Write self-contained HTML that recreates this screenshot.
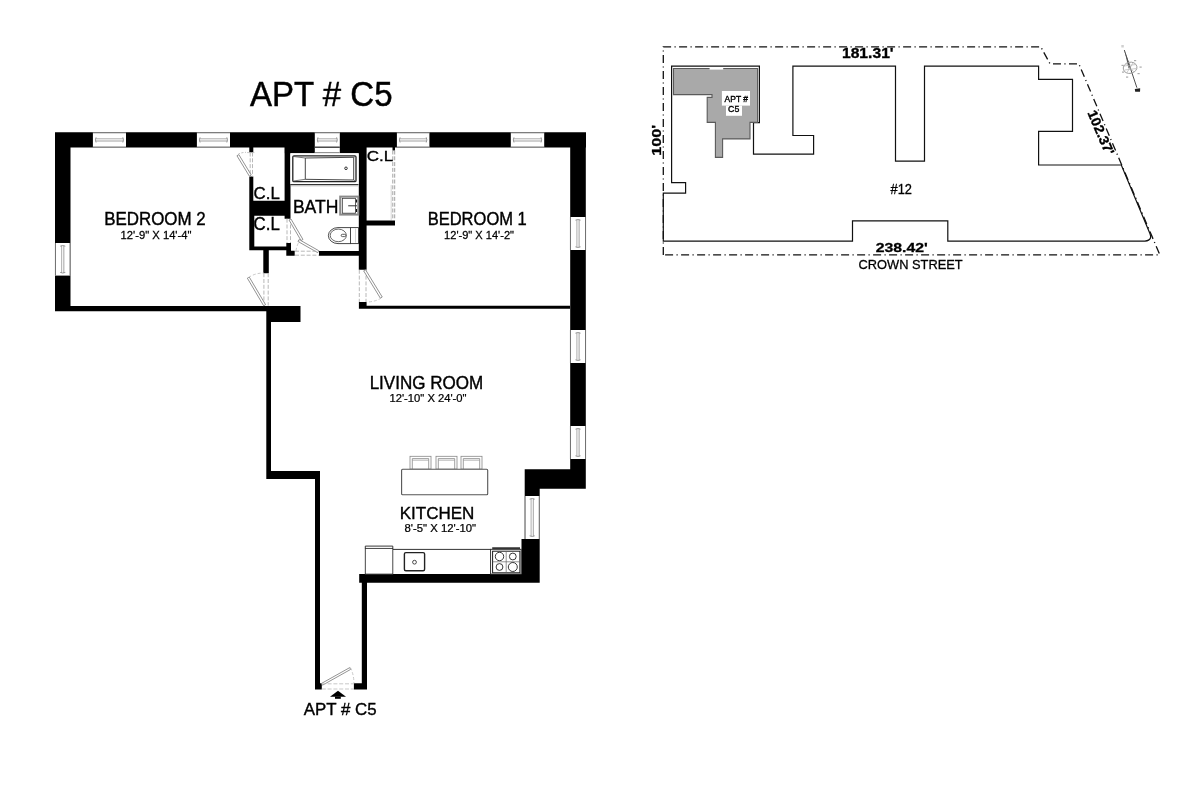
<!DOCTYPE html><html><head><meta charset="utf-8"><style>html,body{margin:0;padding:0;background:#fff;width:1200px;height:800px;overflow:hidden}svg{display:block;will-change:transform;font-family:"Liberation Sans",sans-serif}</style></head><body>
<svg width="1200" height="800" viewBox="0 0 1200 800">
<rect width="1200" height="800" fill="#fff"/>
<path d="M55,132.3H586V147.5H55ZM55,132.3H70.5V311.2H55ZM55,306H266.3V311.2H55ZM266.3,306H300.5V322H266.3ZM266.3,306H271V479H266.3ZM266.3,471H319.8V479H266.3ZM315,471H320V689.4H315ZM361.8,574.3H367V689.4H361.8ZM359.2,574.1H539.7V582.8H359.2ZM521.5,539H539.7V582.8H521.5ZM524.7,469.2H539.7V539H524.7ZM524.7,469.2H585.8V488.7H524.7ZM570.2,132.3H585.8V488.7H570.2ZM366.5,305.8H570V308.8H366.5ZM358.9,302H366.6V308.8H358.9ZM358.8,147.5H366.6V269.8H358.8ZM366.5,220.6H395V225.6H366.5ZM392.5,147.5H395V150.5H392.5ZM284.5,147.5H358.8V153.2H284.5ZM284.6,147.5H290.5V218.7H284.6ZM249.3,147.5H253.3V152.5H249.3ZM249.3,176.6H253.3V250.3H249.3ZM249.3,200.7H290.5V215.7H249.3ZM249.3,215.7H254.3V250.3H249.3ZM249.3,246.4H291V250.3H249.3ZM286.3,243H291V255.7H286.3ZM286.3,250.7H294.7V255.7H286.3ZM263.3,250.3H268.8V273.2H263.3ZM319,251H358.8V255.7H319ZM315.3,683.3H321.8V689.4H315.3ZM353.9,683.3H367V689.4H353.9Z" fill="#000"/>
<rect x="92.9" y="132.3" width="33.10" height="15.20" fill="#fff" />
<line x1="92.9" y1="132.75" x2="126" y2="132.75" stroke="#5a5a5a" stroke-width="0.9" />
<line x1="92.9" y1="147.05" x2="126" y2="147.05" stroke="#5a5a5a" stroke-width="0.9" />
<line x1="95.5" y1="138.8" x2="123.4" y2="138.8" stroke="#8a8a8a" stroke-width="0.7" />
<line x1="95.5" y1="141.0" x2="123.4" y2="141.0" stroke="#7a7a7a" stroke-width="0.7" />
<path d="M96.10000000000001,137.3 Q94.7,139.9 96.10000000000001,142.5" fill="none" stroke="#777" stroke-width="0.7"/>
<path d="M122.8,137.3 Q124.2,139.9 122.8,142.5" fill="none" stroke="#777" stroke-width="0.7"/>
<rect x="196.9" y="132.3" width="33.10" height="15.20" fill="#fff" />
<line x1="196.9" y1="132.75" x2="230" y2="132.75" stroke="#5a5a5a" stroke-width="0.9" />
<line x1="196.9" y1="147.05" x2="230" y2="147.05" stroke="#5a5a5a" stroke-width="0.9" />
<line x1="199.5" y1="138.8" x2="227.4" y2="138.8" stroke="#8a8a8a" stroke-width="0.7" />
<line x1="199.5" y1="141.0" x2="227.4" y2="141.0" stroke="#7a7a7a" stroke-width="0.7" />
<path d="M200.1,137.3 Q198.70000000000002,139.9 200.1,142.5" fill="none" stroke="#777" stroke-width="0.7"/>
<path d="M226.8,137.3 Q228.2,139.9 226.8,142.5" fill="none" stroke="#777" stroke-width="0.7"/>
<rect x="314.8" y="132.3" width="25.00" height="15.20" fill="#fff" />
<line x1="314.8" y1="132.75" x2="339.8" y2="132.75" stroke="#5a5a5a" stroke-width="0.9" />
<line x1="314.8" y1="147.05" x2="339.8" y2="147.05" stroke="#5a5a5a" stroke-width="0.9" />
<line x1="317.40000000000003" y1="138.8" x2="337.2" y2="138.8" stroke="#8a8a8a" stroke-width="0.7" />
<line x1="317.40000000000003" y1="141.0" x2="337.2" y2="141.0" stroke="#7a7a7a" stroke-width="0.7" />
<path d="M318.0,137.3 Q316.6,139.9 318.0,142.5" fill="none" stroke="#777" stroke-width="0.7"/>
<path d="M336.6,137.3 Q338.0,139.9 336.6,142.5" fill="none" stroke="#777" stroke-width="0.7"/>
<rect x="396.9" y="132.3" width="32.50" height="15.20" fill="#fff" />
<line x1="396.9" y1="132.75" x2="429.4" y2="132.75" stroke="#5a5a5a" stroke-width="0.9" />
<line x1="396.9" y1="147.05" x2="429.4" y2="147.05" stroke="#5a5a5a" stroke-width="0.9" />
<line x1="399.5" y1="138.8" x2="426.79999999999995" y2="138.8" stroke="#8a8a8a" stroke-width="0.7" />
<line x1="399.5" y1="141.0" x2="426.79999999999995" y2="141.0" stroke="#7a7a7a" stroke-width="0.7" />
<path d="M400.09999999999997,137.3 Q398.7,139.9 400.09999999999997,142.5" fill="none" stroke="#777" stroke-width="0.7"/>
<path d="M426.2,137.3 Q427.59999999999997,139.9 426.2,142.5" fill="none" stroke="#777" stroke-width="0.7"/>
<rect x="510.8" y="132.3" width="33.40" height="15.20" fill="#fff" />
<line x1="510.8" y1="132.75" x2="544.2" y2="132.75" stroke="#5a5a5a" stroke-width="0.9" />
<line x1="510.8" y1="147.05" x2="544.2" y2="147.05" stroke="#5a5a5a" stroke-width="0.9" />
<line x1="513.4" y1="138.8" x2="541.6" y2="138.8" stroke="#8a8a8a" stroke-width="0.7" />
<line x1="513.4" y1="141.0" x2="541.6" y2="141.0" stroke="#7a7a7a" stroke-width="0.7" />
<path d="M514.0,137.3 Q512.6,139.9 514.0,142.5" fill="none" stroke="#777" stroke-width="0.7"/>
<path d="M541.0,137.3 Q542.4000000000001,139.9 541.0,142.5" fill="none" stroke="#777" stroke-width="0.7"/>
<rect x="314.8" y="147.5" width="25.00" height="5.70" fill="#fff" />
<line x1="314.8" y1="147.3" x2="339.8" y2="147.3" stroke="#333" stroke-width="1.0" />
<line x1="314.8" y1="152.6" x2="339.8" y2="152.6" stroke="#888" stroke-width="1.0" />
<rect x="55" y="243" width="15.50" height="32.60" fill="#fff" />
<line x1="55.45" y1="243" x2="55.45" y2="275.6" stroke="#5a5a5a" stroke-width="0.9" />
<line x1="70.05" y1="243" x2="70.05" y2="275.6" stroke="#5a5a5a" stroke-width="0.9" />
<line x1="61.65" y1="245.6" x2="61.65" y2="273.0" stroke="#8a8a8a" stroke-width="0.7" />
<line x1="63.85" y1="245.6" x2="63.85" y2="273.0" stroke="#7a7a7a" stroke-width="0.7" />
<path d="M60.15,246.2 Q62.75,244.8 65.35,246.2" fill="none" stroke="#777" stroke-width="0.7"/>
<path d="M60.15,272.40000000000003 Q62.75,273.8 65.35,272.40000000000003" fill="none" stroke="#777" stroke-width="0.7"/>
<rect x="570" y="217" width="16.00" height="33.00" fill="#fff" />
<line x1="570.45" y1="217" x2="570.45" y2="250" stroke="#5a5a5a" stroke-width="0.9" />
<line x1="585.55" y1="217" x2="585.55" y2="250" stroke="#5a5a5a" stroke-width="0.9" />
<line x1="576.9" y1="219.6" x2="576.9" y2="247.4" stroke="#8a8a8a" stroke-width="0.7" />
<line x1="579.1" y1="219.6" x2="579.1" y2="247.4" stroke="#7a7a7a" stroke-width="0.7" />
<path d="M575.4,220.2 Q578.0,218.8 580.6,220.2" fill="none" stroke="#777" stroke-width="0.7"/>
<path d="M575.4,246.8 Q578.0,248.2 580.6,246.8" fill="none" stroke="#777" stroke-width="0.7"/>
<rect x="570" y="330" width="16.00" height="33.00" fill="#fff" />
<line x1="570.45" y1="330" x2="570.45" y2="363" stroke="#5a5a5a" stroke-width="0.9" />
<line x1="585.55" y1="330" x2="585.55" y2="363" stroke="#5a5a5a" stroke-width="0.9" />
<line x1="576.9" y1="332.6" x2="576.9" y2="360.4" stroke="#8a8a8a" stroke-width="0.7" />
<line x1="579.1" y1="332.6" x2="579.1" y2="360.4" stroke="#7a7a7a" stroke-width="0.7" />
<path d="M575.4,333.2 Q578.0,331.8 580.6,333.2" fill="none" stroke="#777" stroke-width="0.7"/>
<path d="M575.4,359.8 Q578.0,361.2 580.6,359.8" fill="none" stroke="#777" stroke-width="0.7"/>
<rect x="570" y="426" width="16.00" height="33.00" fill="#fff" />
<line x1="570.45" y1="426" x2="570.45" y2="459" stroke="#5a5a5a" stroke-width="0.9" />
<line x1="585.55" y1="426" x2="585.55" y2="459" stroke="#5a5a5a" stroke-width="0.9" />
<line x1="576.9" y1="428.6" x2="576.9" y2="456.4" stroke="#8a8a8a" stroke-width="0.7" />
<line x1="579.1" y1="428.6" x2="579.1" y2="456.4" stroke="#7a7a7a" stroke-width="0.7" />
<path d="M575.4,429.2 Q578.0,427.8 580.6,429.2" fill="none" stroke="#777" stroke-width="0.7"/>
<path d="M575.4,455.8 Q578.0,457.2 580.6,455.8" fill="none" stroke="#777" stroke-width="0.7"/>
<rect x="524.7" y="496" width="15.00" height="43.00" fill="#fff" />
<line x1="525.1500000000001" y1="496" x2="525.1500000000001" y2="539" stroke="#5a5a5a" stroke-width="0.9" />
<line x1="539.25" y1="496" x2="539.25" y2="539" stroke="#5a5a5a" stroke-width="0.9" />
<line x1="531.1" y1="498.6" x2="531.1" y2="536.4" stroke="#8a8a8a" stroke-width="0.7" />
<line x1="533.3000000000001" y1="498.6" x2="533.3000000000001" y2="536.4" stroke="#7a7a7a" stroke-width="0.7" />
<path d="M529.6,499.2 Q532.2,497.8 534.8000000000001,499.2" fill="none" stroke="#777" stroke-width="0.7"/>
<path d="M529.6,535.8 Q532.2,537.2 534.8000000000001,535.8" fill="none" stroke="#777" stroke-width="0.7"/>
<line x1="250.2" y1="152.5" x2="250.2" y2="176.6" stroke="#b0b0b0" stroke-width="0.9" stroke-dasharray="4,1.8"/>
<line x1="252.5" y1="152.5" x2="252.5" y2="176.6" stroke="#b0b0b0" stroke-width="0.9" stroke-dasharray="4,1.8"/>
<polygon points="251.23997413561847,175.0286431724672 238.83997413561846,154.6286431724672 236.96002586438155,155.77135682753277 249.36002586438156,176.17135682753278" fill="#fff" stroke="#777" stroke-width="0.8" />
<path d="M238.3,154.2 Q241.5,152.3 246,152.4" fill="none" stroke="#aaa" stroke-width="0.8" stroke-dasharray="2,1.5"/>
<line x1="247" y1="152.6" x2="254.5" y2="152.6" stroke="#bbb" stroke-width="0.8" />
<line x1="263.9" y1="273.2" x2="263.9" y2="305.6" stroke="#b0b0b0" stroke-width="0.9" stroke-dasharray="4,1.8"/>
<line x1="268.2" y1="273.2" x2="268.2" y2="305.6" stroke="#b0b0b0" stroke-width="0.9" stroke-dasharray="4,1.8"/>
<polygon points="265.54715579112235,304.64062900741686 249.24715579112234,277.0406290074169 247.35284420887768,278.15937099258315 263.6528442088777,305.7593709925831" fill="#fff" stroke="#777" stroke-width="0.8" />
<path d="M248.5,277.5 Q255,273 264,273" fill="none" stroke="#bbb" stroke-width="0.8" stroke-dasharray="3,2"/>
<line x1="287" y1="218.7" x2="287" y2="243" stroke="#b0b0b0" stroke-width="0.9" stroke-dasharray="4,1.8"/>
<line x1="290.5" y1="218.7" x2="290.5" y2="243" stroke="#b0b0b0" stroke-width="0.9" stroke-dasharray="4,1.8"/>
<polygon points="289.05068408371835,220.05569712172584 301.05068408371835,240.55569712172584 302.94931591628165,239.44430287827416 290.94931591628165,218.94430287827416" fill="#fff" stroke="#777" stroke-width="0.8" />
<polygon points="297.95841837240437,241.45743894878518 317.7584183724044,252.65743894878517 318.84158162759564,250.7425610512148 299.04158162759563,239.54256105121482" fill="#fff" stroke="#777" stroke-width="0.8" />
<line x1="295" y1="251.2" x2="319" y2="251.2" stroke="#b0b0b0" stroke-width="0.9" stroke-dasharray="4,1.8"/>
<line x1="295" y1="255.2" x2="319" y2="255.2" stroke="#b0b0b0" stroke-width="0.9" stroke-dasharray="4,1.8"/>
<path d="M296,251 Q297,243 301,240" fill="none" stroke="#bbb" stroke-width="0.8" stroke-dasharray="3,2"/>
<line x1="359.3" y1="269.8" x2="359.3" y2="302" stroke="#b0b0b0" stroke-width="0.9" stroke-dasharray="4,1.8"/>
<line x1="366" y1="269.8" x2="366" y2="302" stroke="#b0b0b0" stroke-width="0.9" stroke-dasharray="4,1.8"/>
<polygon points="363.6616449689862,270.87401205193885 380.3616449689862,298.17401205193886 382.23835503101384,297.0259879480612 365.53835503101385,269.7259879480612" fill="#fff" stroke="#777" stroke-width="0.8" />
<path d="M381.2,298 Q375,302 366.5,302" fill="none" stroke="#bbb" stroke-width="0.8" stroke-dasharray="3,2"/>
<line x1="392.8" y1="150.5" x2="392.8" y2="220.6" stroke="#999" stroke-width="0.9" stroke-dasharray="4,1.8"/>
<line x1="394.7" y1="150.5" x2="394.7" y2="220.6" stroke="#999" stroke-width="0.9" stroke-dasharray="4,1.8"/>
<line x1="391.2" y1="185" x2="391.2" y2="220" stroke="#ccc" stroke-width="0.8" />
<polygon points="322.48879176306747,685.1724004885127 350.68879176306746,669.3724004885128 349.7112082369325,667.6275995114872 321.51120823693253,683.4275995114872" fill="#fff" stroke="#777" stroke-width="0.8" />
<path d="M350.4,667.5 Q354,675 353.9,683.3" fill="none" stroke="#bbb" stroke-width="0.8" stroke-dasharray="3,2"/>
<line x1="321.8" y1="683.8" x2="353.9" y2="683.8" stroke="#bbb" stroke-width="0.8" stroke-dasharray="4,1.8"/>
<line x1="321.8" y1="689" x2="353.9" y2="689" stroke="#bbb" stroke-width="0.8" stroke-dasharray="4,1.8"/>
<polygon points="338,690.8 330,696.8 346,696.8" fill="#000" stroke="none" stroke-width="1" />
<rect x="335" y="696.5" width="5.80" height="2.30" fill="#000" />
<rect x="290.3" y="153.3" width="68.20" height="31.00" fill="#fff" />
<line x1="290.3" y1="184.6" x2="358.5" y2="184.6" stroke="#222" stroke-width="1.0" />
<rect x="292.8" y="155.8" width="63.2" height="25.9" rx="1.2" fill="#fff" stroke="#222" stroke-width="1.3"/>
<polyline points="305.3,158 353.7,157.3 353.7,180 305.3,179.3 305.3,158" fill="none" stroke="#333" stroke-width="0.9" />
<polyline points="293.5,156.5 305.3,158" fill="none" stroke="#555" stroke-width="0.8" />
<polyline points="293.5,181 305.3,179.3" fill="none" stroke="#555" stroke-width="0.8" />
<polyline points="355.3,156.5 353.7,157.3" fill="none" stroke="#555" stroke-width="0.8" />
<polyline points="355.3,181 353.7,180" fill="none" stroke="#555" stroke-width="0.8" />
<circle cx="346" cy="168.3" r="1.3" fill="none" stroke="#222" stroke-width="0.9"/>
<line x1="290.8" y1="185.8" x2="358" y2="185.8" stroke="#aaa" stroke-width="0.8" />
<rect x="340.2" y="196.6" width="18.10" height="18.00" fill="#fff" stroke="#8a8a8a" stroke-width="2"/>
<rect x="342.3" y="198.3" width="13.20" height="14.90" fill="none" stroke="#333" stroke-width="0.8"/>
<line x1="348.2" y1="205.8" x2="357" y2="205.8" stroke="#333" stroke-width="1.0" />
<line x1="356.5" y1="199.5" x2="356.5" y2="202.5" stroke="#111" stroke-width="1.1" />
<line x1="356.5" y1="209" x2="356.5" y2="212" stroke="#111" stroke-width="1.1" />
<path d="M350.5,227.6 L338,227.6 A9.6,8 0 0,0 338,243.6 L350.5,243.6" fill="#fff" stroke="#333" stroke-width="0.9"/>
<ellipse cx="338.3" cy="235.4" rx="8.1" ry="6.3" fill="none" stroke="#444" stroke-width="0.8"/>
<rect x="341.2" y="234.3" width="4.6" height="2.3" rx="1.15" fill="#fff" stroke="#333" stroke-width="0.8"/>
<rect x="350.5" y="227.6" width="8.00" height="16.00" fill="#fff" stroke="#333" stroke-width="0.9"/>
<line x1="355.5" y1="228.5" x2="355.5" y2="242.6" stroke="#bbb" stroke-width="0.6" />
<rect x="410" y="456.3" width="21.00" height="12.80" fill="#fff" stroke="#888" stroke-width="0.8"/>
<polyline points="412.3,469.1 412.3,458.6 428.7,458.6 428.7,469.1" fill="none" stroke="#888" stroke-width="0.8" />
<line x1="412.3" y1="460.2" x2="428.7" y2="460.2" stroke="#999" stroke-width="0.7" />
<rect x="436" y="456.3" width="21.00" height="12.80" fill="#fff" stroke="#888" stroke-width="0.8"/>
<polyline points="438.3,469.1 438.3,458.6 454.7,458.6 454.7,469.1" fill="none" stroke="#888" stroke-width="0.8" />
<line x1="438.3" y1="460.2" x2="454.7" y2="460.2" stroke="#999" stroke-width="0.7" />
<rect x="461" y="456.3" width="21.00" height="12.80" fill="#fff" stroke="#888" stroke-width="0.8"/>
<polyline points="463.3,469.1 463.3,458.6 479.7,458.6 479.7,469.1" fill="none" stroke="#888" stroke-width="0.8" />
<line x1="463.3" y1="460.2" x2="479.7" y2="460.2" stroke="#999" stroke-width="0.7" />
<rect x="401.6" y="469.2" width="86.1" height="25.5" rx="1" fill="#fff" stroke="#555" stroke-width="1.1"/>
<line x1="392.8" y1="549.4" x2="490.7" y2="549.4" stroke="#333" stroke-width="1" />
<rect x="365.3" y="548.4" width="27.50" height="25.70" fill="#fff" stroke="#333" stroke-width="0.9"/>
<line x1="365.3" y1="546.1" x2="392.8" y2="546.1" stroke="#222" stroke-width="0.9" />
<line x1="365.3" y1="546.1" x2="365.3" y2="548.4" stroke="#222" stroke-width="0.9" />
<line x1="392.8" y1="546.1" x2="392.8" y2="548.4" stroke="#222" stroke-width="0.9" />
<rect x="404.4" y="552.6" width="20.2" height="18.2" rx="1.5" fill="#fff" stroke="#222" stroke-width="1.4"/>
<circle cx="414.5" cy="562.2" r="1.9" fill="none" stroke="#333" stroke-width="0.9"/>
<rect x="490.6" y="549.3" width="30.60" height="24.80" fill="#fff" stroke="#222" stroke-width="0.9"/>
<rect x="492.6" y="551.2" width="27.30" height="21.60" fill="none" stroke="#1a1a1a" stroke-width="1.0"/>
<line x1="506.2" y1="551" x2="506.2" y2="572.8" stroke="#666" stroke-width="0.7" />
<line x1="492.8" y1="561.8" x2="519.7" y2="561.8" stroke="#666" stroke-width="0.7" />
<line x1="492.2" y1="548.2" x2="520" y2="548.2" stroke="#333" stroke-width="1.9" />
<circle cx="499.5" cy="556.5" r="4.2" fill="none" stroke="#222" stroke-width="0.9"/>
<circle cx="512.8" cy="556.5" r="3.4" fill="none" stroke="#222" stroke-width="0.9"/>
<circle cx="499.5" cy="567" r="3.4" fill="none" stroke="#222" stroke-width="0.9"/>
<circle cx="512.8" cy="567" r="4.5" fill="none" stroke="#222" stroke-width="0.9"/>
<g transform="translate(250.00,106.00) scale(1,1.061)"><text x="0" y="0" font-size="33.02" font-weight="400" fill="#000" stroke="#000" stroke-width="0.45">APT # C5</text></g>
<g transform="translate(104.14,224.80) scale(1,1.098)"><text x="0" y="0" font-size="16.95" font-weight="400" fill="#000" stroke="#000" stroke-width="0.37">BEDROOM 2</text></g>
<g transform="translate(120.60,238.50) scale(1,1.036)"><text x="0" y="0" font-size="11.23" font-weight="400" fill="#000" stroke="#000" stroke-width="0.25">12'-9&quot; X 14'-4&quot;</text></g>
<g transform="translate(427.68,224.80) scale(1,1.126)"><text x="0" y="0" font-size="16.52" font-weight="400" fill="#000" stroke="#000" stroke-width="0.36">BEDROOM 1</text></g>
<g transform="translate(444.11,238.50) scale(1,1.051)"><text x="0" y="0" font-size="11.07" font-weight="400" fill="#000" stroke="#000" stroke-width="0.24">12'-9&quot; X 14'-2&quot;</text></g>
<g transform="translate(369.64,388.70) scale(1,1.084)"><text x="0" y="0" font-size="17.04" font-weight="400" fill="#000" stroke="#000" stroke-width="0.37">LIVING ROOM</text></g>
<g transform="translate(389.40,402.10) scale(1,0.995)"><text x="0" y="0" font-size="11.24" font-weight="400" fill="#000" stroke="#000" stroke-width="0.25">12'-10&quot; X 24'-0&quot;</text></g>
<g transform="translate(399.64,519.40) scale(1,1.015)"><text x="0" y="0" font-size="17.04" font-weight="400" fill="#000" stroke="#000" stroke-width="0.37">KITCHEN</text></g>
<g transform="translate(404.55,532.10) scale(1,0.962)"><text x="0" y="0" font-size="11.33" font-weight="400" fill="#000" stroke="#000" stroke-width="0.25">8'-5&quot; X 12'-10&quot;</text></g>
<g transform="translate(292.89,212.70) scale(1,0.993)"><text x="0" y="0" font-size="17.57" font-weight="400" fill="#000" stroke="#000" stroke-width="0.39">BATH</text></g>
<g transform="translate(253.56,198.60) scale(1,0.948)"><text x="0" y="0" font-size="16.87" font-weight="400" fill="#000" stroke="#000" stroke-width="0.37">C.L</text></g>
<g transform="translate(253.56,229.50) scale(1,1.051)"><text x="0" y="0" font-size="16.87" font-weight="400" fill="#000" stroke="#000" stroke-width="0.37">C.L</text></g>
<g transform="translate(366.65,160.60) scale(1,0.906)"><text x="0" y="0" font-size="17.01" font-weight="400" fill="#000" stroke="#000" stroke-width="0.37">C.L</text></g>
<g transform="translate(303.70,714.80) scale(1,1.016)"><text x="0" y="0" font-size="16.89" font-weight="400" fill="#000" stroke="#000" stroke-width="0.37">APT # C5</text></g>
<polyline points="663.3,255 663.3,46.8 1040.8,46.8 1050,63.8 1078.8,63.8 1159.8,254.8 663.3,254.8" fill="none" stroke="#111" stroke-width="1.3" stroke-dasharray="8,3.4,1.2,3.4"/>
<path d="M671.6,66.2 L759.4,66.2 L759.4,122.7 L753.5,122.7 L753.5,154.2 L813.6,154.2 L813.6,135.5 L792.9,135.5 L792.9,66.2 L895.5,66.2 L895.5,161.2 L924.5,161.2 L924.5,66.2 L1038.6,66.2 L1038.6,79.3 L1072.5,79.3 L1072.5,131.3 L1038.6,131.3 L1038.6,165 L1121.3,165 L1149.8,233.3 Q1153.2,241.2 1142.5,241.2 L947.8,241.2 L947.8,220.8 L852.5,220.8 L852.5,241.2 L663.3,241.2 L663.3,193.2 L685.6,193.2 L685.6,182.6 L671.6,182.6 Z" fill="none" stroke="#111" stroke-width="1.2"/>
<polygon points="673.5,68.5 757.6,68.5 757.6,122.4 750,122.4 750,138.9 722.6,138.9 722.6,157.4 715.4,157.4 715.4,122.4 707.2,122.4 707.2,97.4 712,97.4 712,94.6 673.5,94.6" fill="#a9a9a9" stroke="#5a5a5a" stroke-width="1.1" />
<rect x="709.6" y="67.5" width="13.60" height="2.10" fill="#fff" />
<rect x="721.9" y="91" width="28.10" height="14.60" fill="#fff" />
<rect x="726" y="105.6" width="16.00" height="10.20" fill="#fff" />
<g transform="translate(724.60,101.70) scale(1,1.131)"><text x="0" y="0" font-size="8.48" font-weight="400" fill="#000" stroke="#000" stroke-width="0.35">APT #</text></g>
<g transform="translate(728.06,111.80) scale(1,1.054)"><text x="0" y="0" font-size="8.82" font-weight="400" fill="#000" stroke="#000" stroke-width="0.35">C5</text></g>
<g transform="translate(890.50,193.50) scale(1,1.075)"><text x="0" y="0" font-size="12.84" font-weight="400" fill="#000" stroke="#000" stroke-width="0.28">#12</text></g>
<g transform="translate(858.56,268.50) scale(1,1.018)"><text x="0" y="0" font-size="12.85" font-weight="400" fill="#000" stroke="#000" stroke-width="0.28">CROWN STREET</text></g>
<g transform="translate(841.91,57.60) scale(1,0.955)"><text x="0" y="0" font-size="15.68" font-weight="700" fill="#000" stroke="#000" stroke-width="0.34">181.31'</text></g>
<g transform="translate(875.73,251.80) scale(1,0.808)"><text x="0" y="0" font-size="15.83" font-weight="700" fill="#000" stroke="#000" stroke-width="0.35">238.42'</text></g>
<g transform="translate(661.25,154.75) rotate(-90) scale(1,0.834)"><text x="-0.97" y="0" font-size="16.12" font-weight="700" stroke="#000" stroke-width="0.35">100'</text></g>
<g transform="translate(1087.50,113.60) rotate(66.5) scale(1,0.943)"><text x="-0.86" y="0" font-size="14.34" font-weight="700" stroke="#000" stroke-width="0.35">102.37'</text></g>
<line x1="1124.3" y1="50" x2="1136.9" y2="87.7" stroke="#3a3a3a" stroke-width="0.9" />
<polygon points="1124.3,50 1130.8,67.8 1128.6,68.4" fill="#555" stroke="none" stroke-width="1" />
<ellipse cx="1130.1" cy="67.8" rx="6.9" ry="5.6" fill="none" stroke="#9a9a9a" stroke-width="0.9" transform="rotate(-12 1130.1 67.8)"/>
<line x1="1124" y1="66" x2="1136" y2="64.5" stroke="#b5b5b5" stroke-width="0.7" />
<line x1="1124.5" y1="70" x2="1136.5" y2="68.5" stroke="#b5b5b5" stroke-width="0.7" />
<line x1="1126" y1="63.5" x2="1134" y2="72" stroke="#b5b5b5" stroke-width="0.7" />
<line x1="1127" y1="72.5" x2="1133" y2="63" stroke="#b5b5b5" stroke-width="0.7" />
<rect x="1121.5" y="64.8" width="2.20" height="1.20" fill="#aaa" />
<rect x="1134" y="60" width="2.20" height="1.20" fill="#aaa" />
<rect x="1139.5" y="66.5" width="2.20" height="1.20" fill="#aaa" />
<rect x="1137.5" y="73" width="2.20" height="1.20" fill="#aaa" />
<rect x="1126" y="76.5" width="2.20" height="1.20" fill="#aaa" />
<rect x="1122" y="71.5" width="2.20" height="1.20" fill="#aaa" />
<polygon points="1134.8,89 1140.2,88.3 1140,91.8 1135.2,91.8" fill="#222" stroke="none" stroke-width="1" />
<rect x="1121.3" y="45" width="2.50" height="2.50" fill="#d0d0d0" />
</svg></body></html>
